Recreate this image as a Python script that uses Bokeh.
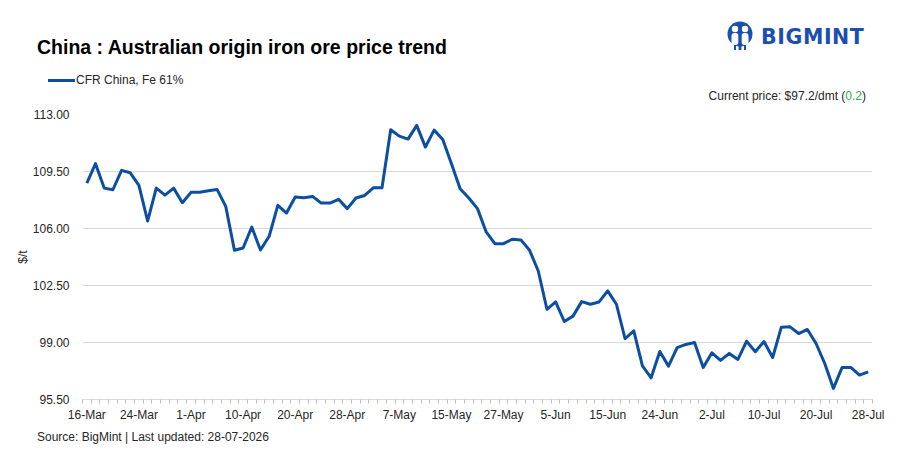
from bokeh.plotting import figure
from bokeh.layouts import column
from bokeh.models import (Range1d, LinearAxis, FixedTicker, ColumnDataSource,
                          NumeralTickFormatter, Div)
from bokeh.embed import file_html
from bokeh.resources import INLINE

dates = [
    "16-Mar", "17-Mar", "18-Mar", "19-Mar", "20-Mar", "23-Mar", "24-Mar",
    "25-Mar", "26-Mar", "27-Mar", "30-Mar", "31-Mar", "1-Apr",
    "2-Apr", "6-Apr", "7-Apr", "8-Apr", "9-Apr", "10-Apr",
    "13-Apr", "14-Apr", "15-Apr", "16-Apr", "17-Apr", "20-Apr",
    "21-Apr", "22-Apr", "23-Apr", "24-Apr", "27-Apr", "28-Apr",
    "29-Apr", "30-Apr", "4-May", "5-May", "6-May", "7-May",
    "8-May", "11-May", "12-May", "13-May", "14-May", "15-May",
    "18-May", "19-May", "20-May", "21-May", "22-May", "27-May",
    "28-May", "29-May", "1-Jun", "2-Jun", "4-Jun", "5-Jun",
    "8-Jun", "9-Jun", "10-Jun", "11-Jun", "12-Jun", "15-Jun",
    "16-Jun", "17-Jun", "18-Jun", "22-Jun", "23-Jun", "24-Jun",
    "25-Jun", "26-Jun", "29-Jun", "30-Jun", "1-Jul", "2-Jul",
    "3-Jul", "6-Jul", "7-Jul", "8-Jul", "9-Jul", "10-Jul",
    "13-Jul", "14-Jul", "15-Jul", "16-Jul", "17-Jul", "20-Jul",
    "21-Jul", "22-Jul", "23-Jul", "24-Jul", "27-Jul", "28-Jul",
]

cfr_china_fe61 = [
    108.79, 109.98, 108.48, 108.38, 109.57, 109.42, 108.65,
    106.46, 108.48, 108.05, 108.48, 107.58, 108.22,
    108.22, 108.32, 108.40, 107.36, 104.66, 104.80,
    106.09, 104.68, 105.52, 107.42, 106.95, 107.93,
    107.89, 107.97, 107.56, 107.56, 107.79, 107.22,
    107.87, 108.03, 108.50, 108.50, 112.06, 111.67,
    111.49, 112.33, 111.00, 112.04, 111.47, 109.98,
    108.44, 107.87, 107.22, 105.79, 105.07, 105.07,
    105.34, 105.30, 104.66, 103.39, 101.04, 101.49,
    100.29, 100.62, 101.51, 101.35, 101.49, 102.17,
    101.35, 99.23, 99.72, 97.57, 96.83, 98.45,
    97.55, 98.69, 98.88, 99.00, 97.47, 98.37,
    97.90, 98.33, 97.96, 99.08, 98.43, 99.06,
    98.08, 99.94, 99.96, 99.55, 99.80, 98.94,
    97.71, 96.18, 97.47, 97.47, 97.00, 97.20,
]

label_every = 6
y_ticks = [95.5, 99.0, 102.5, 106.0, 109.5, 113.0]
title_text = "China : Australian origin iron ore price trend"
series_name = "CFR China, Fe 61%"
source_text = "Source: BigMint | Last updated: 28-07-2026"
brand = "BIGMINT"
current_price = 97.2
price_change = 0.2

LINE = "#0b4ea2"
BRAND = "#1a4fb0"
GRID = "#d9d9d9"
TXT = "#262626"
GREEN = "#22b04b"
FONT = "Liberation Sans"
W = 890
HEAD_H = 104
FOOT_H = 22

ff = f"font-family:'{FONT}',sans-serif;"
abs_ = "position:absolute;white-space:nowrap;"

logo_svg = (
    f'<svg width="28" height="32" viewBox="0 0 28 32" style="{abs_}left:726px;top:20px;">'
    f'<circle cx="14" cy="14" r="12.5" fill="{BRAND}"/>'
    '<circle cx="9" cy="9" r="3.2" fill="white"/>'
    '<circle cx="19" cy="9" r="3.2" fill="white"/>'
    '<rect x="5.5" y="13" width="7" height="12" rx="3" fill="white"/>'
    '<rect x="15.5" y="13" width="7" height="12" rx="3" fill="white"/>'
    f'<rect x="12.6" y="8" width="2.8" height="22" fill="{BRAND}"/>'
    f'<rect x="8" y="25" width="2" height="5" fill="{BRAND}"/>'
    f'<rect x="18" y="25" width="2" height="5" fill="{BRAND}"/>'
    '</svg>'
)

head_html = (
    f'<div style="position:relative;width:{W}px;height:{HEAD_H}px;{ff}color:{TXT};">'
    f'<span style="{abs_}left:37px;top:38px;font-size:19.5px;line-height:19.5px;'
    f'font-weight:bold;color:#000;">{title_text}</span>'
    f'<span style="{abs_}left:48px;top:79px;width:27px;height:3px;background:{LINE};"></span>'
    f'<span style="{abs_}left:76px;top:74px;font-size:12px;line-height:12px;">{series_name}</span>'
    f'<span style="{abs_}right:{W - 866}px;top:90px;font-size:12px;line-height:12px;">'
    f'Current price: ${current_price:.1f}/dmt (<span style="color:{GREEN};">{price_change:.1f}</span>)</span>'
    f'{logo_svg}'
    f'<span style="{abs_}left:761px;top:27px;font-family:\'DejaVu Sans\',sans-serif;font-size:20.5px;'
    f'line-height:20.5px;font-weight:bold;letter-spacing:0.6px;color:{BRAND};">{brand}</span>'
    '</div>'
)
head = Div(text=head_html, width=W, height=HEAD_H, margin=0)

foot_html = (
    f'<div style="position:relative;width:{W}px;height:{FOOT_H}px;{ff}color:{TXT};">'
    f'<span style="{abs_}left:37px;top:3px;font-size:12px;line-height:12px;">{source_text}</span>'
    '</div>'
)
foot = Div(text=foot_html, width=W, height=FOOT_H, margin=0)

# ---------------- main chart
n = len(dates)
slot_center = [i + 0.5 for i in range(n)]   # each trading day is one slot
src = ColumnDataSource(dict(slot=slot_center, date=dates, price=cfr_china_fe61))

p = figure(width=W, height=324, output_backend="svg", toolbar_location=None,
           x_range=Range1d(0, n), y_range=Range1d(95.5, 113.0),
           x_axis_location=None, min_border_left=82, min_border_right=18,
           min_border_top=10, min_border_bottom=29)
p.outline_line_color = None

xaxis = LinearAxis()
major = [i + 0.5 for i in range(0, n, label_every)]
xaxis.ticker = FixedTicker(ticks=major, minor_ticks=list(range(0, n + 1)))
xaxis.major_label_overrides = {i + 0.5: dates[i] for i in range(0, n, label_every)}
xaxis.major_tick_line_color = None
xaxis.major_tick_in = 0
xaxis.major_tick_out = 0
xaxis.minor_tick_line_color = "#bfbfbf"
xaxis.minor_tick_in = 0
xaxis.minor_tick_out = 4
xaxis.axis_line_color = GRID
xaxis.major_label_text_font = FONT
xaxis.major_label_text_font_size = "12px"
xaxis.major_label_text_color = TXT
xaxis.major_label_standoff = 4
p.add_layout(xaxis, "below")

p.yaxis.ticker = FixedTicker(ticks=y_ticks)
p.yaxis.formatter = NumeralTickFormatter(format="0.00")
p.yaxis.axis_line_color = None
p.yaxis.major_tick_line_color = None
p.yaxis.major_tick_in = 0
p.yaxis.major_tick_out = 0
p.yaxis.minor_tick_line_color = None
p.yaxis.major_label_text_font = FONT
p.yaxis.major_label_text_font_size = "12px"
p.yaxis.major_label_text_color = TXT
p.yaxis.major_label_standoff = 13
p.yaxis.axis_label = "$/t"
p.yaxis.axis_label_text_font = FONT
p.yaxis.axis_label_text_font_size = "12px"
p.yaxis.axis_label_text_font_style = "normal"
p.yaxis.axis_label_text_color = TXT
p.yaxis.axis_label_standoff = 0

p.xgrid.grid_line_color = None
p.ygrid.grid_line_color = GRID
p.ygrid.ticker = FixedTicker(ticks=y_ticks)

p.line(x="slot", y="price", source=src, line_color=LINE, line_width=3, line_join="round")

layout = column(head, p, foot, spacing=0)
open("out.html", "w").write(file_html(layout, INLINE))
